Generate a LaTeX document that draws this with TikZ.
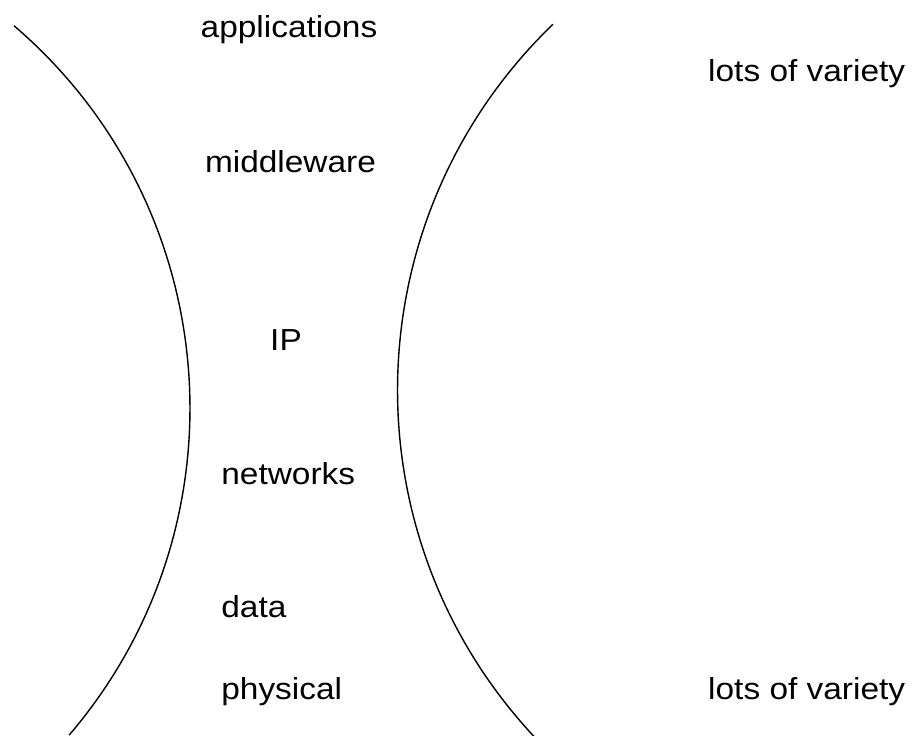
\documentclass[tikz,border=0pt]{standalone}
\usepackage{fontspec}
\setmainfont{Liberation Sans}[FakeStretch=1.1]
\begin{document}
\begin{tikzpicture}[x=0.02cm, y=-0.02cm, every node/.style={
    inner sep=0pt, font=\fontsize{17.3}{20}\selectfont},
    glass/.style={line width=0.8pt}]
    \useasboundingbox (0,0) rectangle (921,735);

    \node[anchor=base] (app) at (289,37.5) {applications};
    \node[anchor=base] (mid) at (290.5,172.5) {middleware};
    \node[anchor=base] (ip) at (286,350) {IP};
    \node[anchor=base west] (net) at (221,484) {networks};
    \node[anchor=base west] (data) at (221,617) {data};
    \node[anchor=base west] (phy) at (221,699) {physical};
    \node[anchor=base] (top) at (806.7,81.5) {lots of variety};
    \node[anchor=base] (bot) at (806.7,699) {lots of variety};

    \coordinate (lc) at (-313.2,408);
    \coordinate (rc) at (905.5,390);
    \draw[glass] (lc) ++(-49.44:503.2) arc[start angle=-49.44, end angle=40.55, radius=503.2];
    \draw[glass] (rc) ++(226.05:508) arc[start angle=226.05, end angle=137.04, radius=508];
\end{tikzpicture}
\end{document}
